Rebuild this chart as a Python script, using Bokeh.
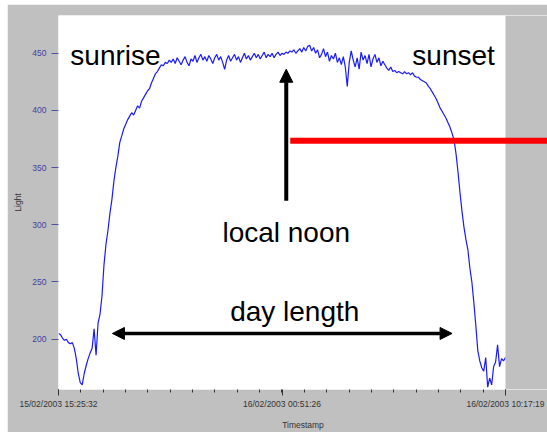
import pandas as pd
from bokeh.plotting import figure
from bokeh.models import (FixedTicker, DatetimeTickFormatter, Arrow, NormalHead,
                          Label, Range1d, ColumnDataSource, BoxAnnotation)
from bokeh.embed import file_html
from bokeh.resources import INLINE

# ---------------- data ----------------
START = "2003-02-15 15:25:32"
END = "2003-02-16 10:17:19"
VIEW_END = "2003-02-16 12:03:40"   # right edge of the grey panel
TICK_LABELS = ["15/02/2003 15:25:32", "16/02/2003 00:51:26", "16/02/2003 10:17:19"]
Y_TICKS = [200, 250, 300, 350, 400, 450]

light = [
    205, 204, 201, 199, 200, 197, 196, 197, 192, 183,
    170, 162, 160, 170, 177, 183, 188, 192, 209, 186,
    214, 222, 238, 265, 283, 295, 310, 322, 338, 350,
    360, 372, 378, 384, 388, 392, 395, 398, 396, 400,
    404, 402, 408, 411, 414, 417, 419, 424, 428, 432,
    434, 437, 440, 439, 442, 441, 444, 442,
    445, 441, 446, 443, 440, 444, 447, 442, 439, 445,
    443, 448, 442, 446, 449, 444, 447, 443, 448, 445,
    441, 446, 449, 444, 447, 442, 436, 444, 448, 443,
    446, 449, 444, 447, 442, 446, 450, 445, 448, 444,
    447, 450, 446, 449, 445, 448, 451, 446, 449, 447,
    450, 446, 449, 451, 448, 450, 449, 451, 450, 452,
    451, 453, 450, 452, 454, 451, 455, 452, 456, 457,
    452, 455, 450, 453, 446, 449, 454, 447, 451, 443,
    448, 445, 450, 442, 446, 440, 447, 438, 421, 442,
    452, 444, 438, 446, 436, 451, 444, 448, 441, 449,
    438, 445, 449, 442, 446, 439, 443, 440,
    437, 435, 438, 434, 435, 433, 434, 433, 432, 434,
    432, 433, 431, 433, 430, 429, 429, 427, 426, 425,
    424, 421, 419, 416, 413, 410, 406, 402, 399, 396,
    393, 389, 385, 380, 374, 362, 346, 328, 312, 298,
    287, 278, 262, 250, 232, 212, 190, 181, 175, 172,
    184, 158, 166, 160, 176, 180, 195, 176, 183, 181, 184,
]
timestamps = pd.date_range(START, END, periods=len(light))

# annotation anchors (timestamp, light value)
SUNRISE = ("2003-02-15 17:49:42", 448)
SUNSET = ("2003-02-16 08:05:49", 448)
NOON_TEXT = ("2003-02-16 01:02:11", 293)
NOON_ARROW = ("2003-02-16 01:02:11", 321, 436)
DAYLEN_TEXT = ("2003-02-16 01:23:41", 224)
DAYLEN_ARROW = ("2003-02-15 17:42:07", "2003-02-16 08:02:02", 205)
RED_LINE = ("2003-02-16 01:12:18", VIEW_END, 373.5)


def ms(t):
    return pd.Timestamp(t).value / 1e6


tick_ms = [ms(pd.to_datetime(s, format="%d/%m/%Y %H:%M:%S")) for s in TICK_LABELS]
minor_ms = [tick_ms[0] + (tick_ms[2] - tick_ms[0]) * k / 20 for k in range(21)]

GREY = "#c0c0c0"

# ---------------- figure ----------------
p = figure(width=540, height=428, x_axis_type="datetime",
           output_backend="svg", toolbar_location=None,
           x_range=Range1d(ms(START), ms(VIEW_END)), y_range=Range1d(156, 483),
           min_border_left=51, min_border_right=0, min_border_top=11,
           min_border_bottom=37, margin=(4, 0, 0, 7))
p.background_fill_color = "white"
p.border_fill_color = GREY
p.outline_line_color = None
p.grid.visible = False

src = ColumnDataSource(dict(t=timestamps, v=light))
p.line("t", "v", source=src, line_color="#1a1aff", line_width=1.2)

# grey strip to the right of the data area
p.add_layout(BoxAnnotation(left=ms(END), fill_color=GREY, fill_alpha=1.0,
                           line_color=None))

FONT = "Liberation Sans"
# x axis
p.xaxis.ticker = FixedTicker(ticks=tick_ms, minor_ticks=minor_ms)
fmt = "%d/%m/%Y %H:%M:%S"
p.xaxis.formatter = DatetimeTickFormatter(
    microseconds=fmt, milliseconds=fmt, seconds=fmt, minsec=fmt, minutes=fmt,
    hourmin=fmt, hours=fmt, days=fmt, months=fmt, years=fmt)
p.xaxis.axis_label = "Timestamp"
p.xaxis.axis_line_color = None
p.xaxis.major_tick_out = 6
p.xaxis.major_tick_in = 0
p.xaxis.minor_tick_out = 3
p.xaxis.minor_tick_in = 0
p.xaxis.major_tick_line_color = "#333333"
p.xaxis.minor_tick_line_color = "#333333"
p.xaxis.major_label_text_font = FONT
p.xaxis.major_label_text_font_size = "8.5px"
p.xaxis.major_label_text_color = "#333333"
p.xaxis.major_label_standoff = 3
p.xaxis.axis_label_text_font = FONT
p.xaxis.axis_label_text_font_size = "8.5px"
p.xaxis.axis_label_text_font_style = "normal"
p.xaxis.axis_label_text_color = "#333333"
p.xaxis.axis_label_standoff = 8

# y axis
p.yaxis.ticker = FixedTicker(ticks=Y_TICKS, minor_ticks=[])
p.yaxis.axis_label = "Light"
p.yaxis.axis_line_color = None
p.yaxis.major_tick_out = 7
p.yaxis.major_tick_in = 0
p.yaxis.minor_tick_line_color = None
p.yaxis.major_tick_line_color = "#5050a0"
p.yaxis.major_label_text_font = FONT
p.yaxis.major_label_text_font_size = "8.5px"
p.yaxis.major_label_text_color = "#4040a0"
p.yaxis.major_label_standoff = 5
p.yaxis.axis_label_text_font = FONT
p.yaxis.axis_label_text_font_size = "8.5px"
p.yaxis.axis_label_text_font_style = "normal"
p.yaxis.axis_label_text_color = "#333333"
p.yaxis.axis_label_standoff = 6

# annotations
for (t, v), txt in [(SUNRISE, "sunrise"), (SUNSET, "sunset"),
                    (NOON_TEXT, "local noon"), (DAYLEN_TEXT, "day length")]:
    p.add_layout(Label(x=ms(t), y=v, text=txt, text_font=FONT,
                       text_font_size="28px", text_color="black",
                       text_align="center", text_baseline="alphabetic"))

p.add_layout(Arrow(x_start=ms(NOON_ARROW[0]), y_start=NOON_ARROW[1],
                   x_end=ms(NOON_ARROW[0]), y_end=NOON_ARROW[2],
                   line_width=4, line_color="black",
                   end=NormalHead(size=13, fill_color="black", line_color="black")))
p.add_layout(Arrow(x_start=ms(DAYLEN_ARROW[0]), y_start=DAYLEN_ARROW[2],
                   x_end=ms(DAYLEN_ARROW[1]), y_end=DAYLEN_ARROW[2],
                   line_width=3.5, line_color="black",
                   start=NormalHead(size=12, fill_color="black", line_color="black"),
                   end=NormalHead(size=12, fill_color="black", line_color="black")))
p.add_layout(Arrow(x_start=ms(RED_LINE[0]), y_start=RED_LINE[2],
                   x_end=ms(RED_LINE[1]), y_end=RED_LINE[2],
                   line_width=6, line_color="#ff0000", end=None))

open("out.html", "w").write(file_html(p, INLINE))
